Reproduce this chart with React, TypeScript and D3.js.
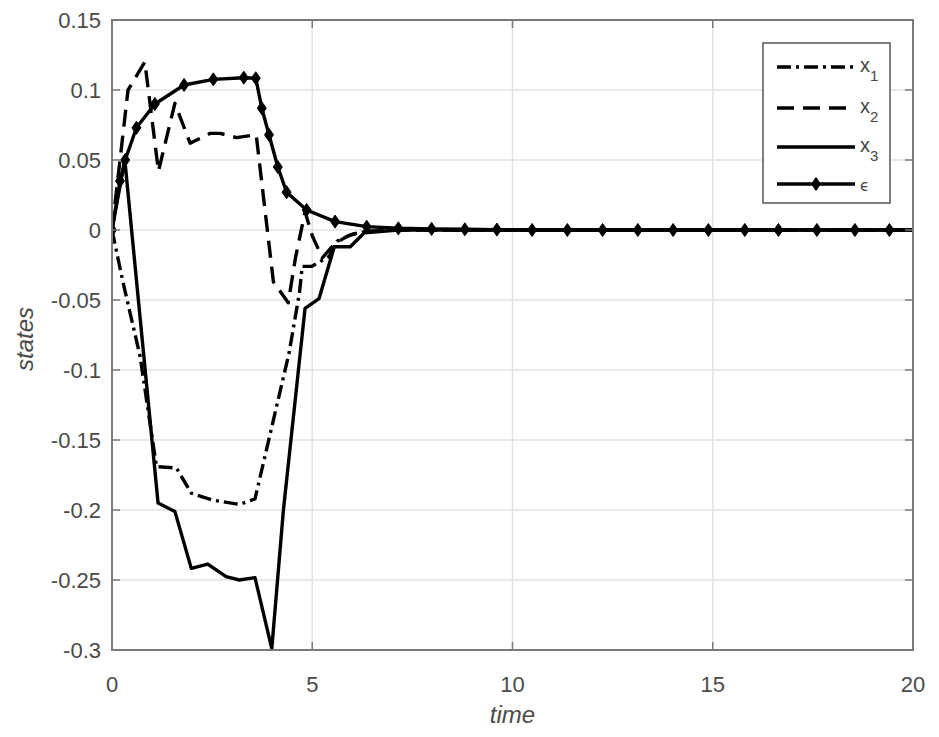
import * as React from "react";
import * as d3 from "d3";

// series (time, value)
const tX1 = [0, 0.28, 0.7, 1.11, 1.61, 1.98, 2.52, 3.18, 3.57, 3.93, 4.42, 4.68, 4.75, 4.98, 5.42, 5.62, 6.0, 6.35, 7.15, 20];
const x1 = [0, -0.038, -0.09, -0.169, -0.17, -0.188, -0.193, -0.196, -0.192, -0.148, -0.088, -0.045, -0.026, -0.026, -0.019, -0.008, -0.003, -0.001, 0, 0];

const tX2 = [0, 0.4, 0.82, 1.16, 1.57, 1.95, 2.45, 2.7, 3.11, 3.6, 4.03, 4.4, 4.58, 4.82, 5.0, 5.25, 5.55, 5.9, 6.35, 7.15, 20];
const x2 = [0, 0.1, 0.12, 0.042, 0.0905, 0.062, 0.069, 0.069, 0.066, 0.068, -0.037, -0.052, -0.02, 0.013, -0.004, -0.02, -0.01, -0.004, -0.001, 0, 0];

const tX3 = [0, 0.32, 1.15, 1.57, 1.98, 2.39, 2.85, 3.18, 3.57, 3.99, 4.28, 4.82, 5.17, 5.55, 5.95, 6.3, 7.15, 20];
const x3 = [0, 0.05, -0.195, -0.201, -0.2417, -0.2386, -0.2476, -0.25, -0.2483, -0.299, -0.2, -0.056, -0.049, -0.012, -0.012, -0.002, 0, 0];

const tEps = [0, 0.2, 0.33, 0.61, 1.07, 1.8, 2.53, 3.29, 3.59, 3.74, 3.92, 4.14, 4.36, 4.86, 5.57, 6.36, 7.15, 7.98, 8.81, 9.61, 10.49, 11.37, 12.25, 13.13, 14.01, 14.89, 15.8, 16.64, 17.6, 18.55, 19.41, 20];
const eps = [0, 0.035, 0.05, 0.073, 0.09, 0.1036, 0.1076, 0.1088, 0.1084, 0.087, 0.068, 0.045, 0.027, 0.0143, 0.006, 0.0024, 0.0012, 0.0008, 0.0005, 0.0003, 0, 0, 0, 0, 0, 0, 0, 0, 0, 0, 0, 0];

const xTicks = [0, 5, 10, 15, 20];
const yTicks = [0.15, 0.1, 0.05, 0, -0.05, -0.1, -0.15, -0.2, -0.25, -0.3];
const yTickLabels = ["0.15", "0.1", "0.05", "0", "-0.05", "-0.1", "-0.15", "-0.2", "-0.25", "-0.3"];
const legendSubs = ["1", "2", "3"];

const font = "'Liberation Sans', Arial, Helvetica, sans-serif";

export default function App() {
  const left = 112, right = 913, top = 20, bottom = 650;
  const x = d3.scaleLinear().domain([0, 20]).range([left, right]);
  const y = d3.scaleLinear().domain([-0.3, 0.15]).range([bottom, top]);

  const line = d3.line<[number, number]>()
    .x(d => x(d[0]))
    .y(d => y(d[1]));

  const zip = (t: number[], v: number[]) => t.map((d, i) => [d, v[i]] as [number, number]);

  const axisCol = "#7a7a7a";
  const gridCol = "#e2e2e2";
  const lw = 3.4;
  const diamond = (cx: number, cy: number) =>
    `M${cx},${cy - 6.5}L${cx + 4.5},${cy}L${cx},${cy + 6.5}L${cx - 4.5},${cy}Z`;

  const series = [
    {pts: zip(tX1, x1), dash: "14,5,3,5"},
    {pts: zip(tX2, x2), dash: "17,9"},
    {pts: zip(tX3, x3), dash: null},
    {pts: zip(tEps, eps), dash: null},
  ];

  const legRows = [67, 108, 147, 184];
  const legX0 = 777, legX1 = 855;

  return (
    <svg width={939} height={737} style={{position: "absolute", left: 0, top: 0, background: "#fff"}}>
      <defs>
        <clipPath id="plotClip">
          <rect x={left} y={top - 2} width={right - left} height={bottom - top + 4}/>
        </clipPath>
      </defs>
      <rect x={0} y={0} width={939} height={737} fill="#fff"/>

      {/* grid */}
      {xTicks.slice(1, -1).map(t => (
        <line key={"gx" + t} x1={x(t)} x2={x(t)} y1={top} y2={bottom} stroke={gridCol} strokeWidth={1.5}/>
      ))}
      {yTicks.slice(1, -1).map(t => (
        <line key={"gy" + t} x1={left} x2={right} y1={y(t)} y2={y(t)} stroke={gridCol} strokeWidth={1.5}/>
      ))}

      {/* curves */}
      <g clipPath="url(#plotClip)">
        {series.map((s, i) => (
          <path key={"s" + i} d={line(s.pts) || ""} fill="none" stroke="#000" strokeWidth={lw}
                strokeDasharray={s.dash || undefined} strokeLinejoin="round"/>
        ))}
        {tEps.slice(0, -1).map((t, i) => (
          <path key={"m" + i} d={diamond(x(t), y(eps[i]))} fill="#000" stroke="#000" strokeWidth={1}/>
        ))}
      </g>

      {/* axes box and ticks */}
      <rect x={left} y={top} width={right - left} height={bottom - top} fill="none" stroke={axisCol} strokeWidth={2}/>
      {xTicks.slice(1, -1).map(t => (
        <g key={"tx" + t}>
          <line x1={x(t)} x2={x(t)} y1={bottom} y2={bottom - 8} stroke={axisCol} strokeWidth={1.5}/>
          <line x1={x(t)} x2={x(t)} y1={top} y2={top + 8} stroke={axisCol} strokeWidth={1.5}/>
        </g>
      ))}
      {yTicks.slice(1, -1).map(t => (
        <g key={"ty" + t}>
          <line x1={left} x2={left + 8} y1={y(t)} y2={y(t)} stroke={axisCol} strokeWidth={1.5}/>
          <line x1={right} x2={right - 8} y1={y(t)} y2={y(t)} stroke={axisCol} strokeWidth={1.5}/>
        </g>
      ))}

      {/* tick labels */}
      {xTicks.map(t => (
        <text key={"lx" + t} x={x(t)} y={bottom + 42} textAnchor="middle" fontFamily={font} fontSize={22}
              fill="#4a4a4a">{t}</text>
      ))}
      {yTicks.map((t, i) => (
        <text key={"ly" + t} x={left - 11} y={y(t) + 8} textAnchor="end" fontFamily={font} fontSize={22}
              fill="#4a4a4a">{yTickLabels[i]}</text>
      ))}

      {/* axis titles */}
      <text x={(left + right) / 2} y={723} textAnchor="middle" fontFamily={font} fontSize={24}
            fontStyle="italic" fill="#4a4a4a">time</text>
      <text transform={`translate(33,${(top + bottom) / 2 + 4}) rotate(-90)`} textAnchor="middle"
            fontFamily={font} fontSize={24} fontStyle="italic" fill="#4a4a4a">states</text>

      {/* legend */}
      <rect x={763} y={43} width={127} height={160} fill="#fff" stroke="#555" strokeWidth={1.5}/>
      {series.map((s, i) => (
        <g key={"lg" + i}>
          <line x1={legX0} x2={legX1} y1={legRows[i]} y2={legRows[i]} stroke="#000" strokeWidth={lw}
                strokeDasharray={s.dash || undefined}/>
          {i < 3 ? (
            <text x={860} y={legRows[i] + 5} fontFamily={font} fontSize={20} fill="#444">
              x<tspan fontSize={15} dy={9}>{legendSubs[i]}</tspan>
            </text>
          ) : (
            <text x={860} y={legRows[i] + 7} fontFamily="'DejaVu Sans', sans-serif" fontSize={15} fill="#444">ϵ</text>
          )}
        </g>
      ))}
      <path d={diamond((legX0 + legX1) / 2, legRows[3])} fill="#000" stroke="#000" strokeWidth={1}/>
    </svg>
  );
}
